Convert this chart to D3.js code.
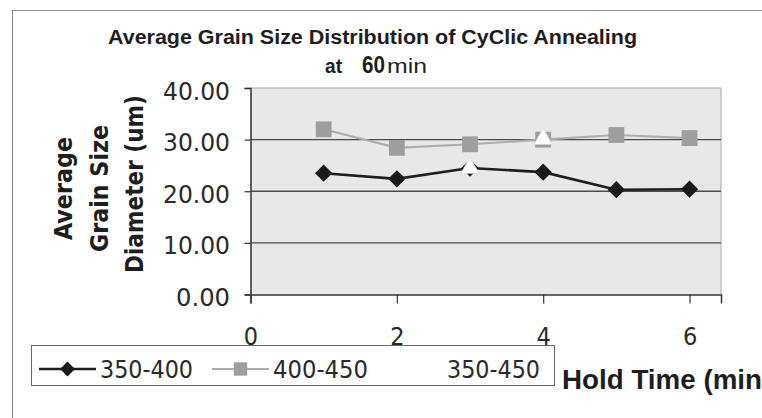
<!DOCTYPE html>
<html><head><meta charset="utf-8">
<script src="https://cdn.jsdelivr.net/npm/d3@7"></script>
<style>
html,body{margin:0;padding:0;background:#fff;}
svg{display:block;}
</style></head>
<body>
<script>
// ---- data ----
const holdTimes = [1, 2, 3, 4, 5, 6];
const seriesNames = ["350-400", "400-450", "350-450"];
const s350_400 = [23.5, 22.4, 24.5, 23.7, 20.3, 20.4];
const s400_450 = [32.0, 28.4, 29.1, 30.0, 30.9, 30.3];
const s350_450 = [null, null, 24.5, 30.1, null, null];
const yTicks = [0, 10, 20, 30, 40];
const xTicks = [0, 2, 4, 6];
const titleText = "Average Grain Size Distribution of CyClic Annealing";
const subtitleParts = ["at", "60", "min"];
const yTitleLines = ["Average", "Grain Size", "Diameter (um)"];
const xTitle = "Hold Time (min";

const W = 762, H = 418;
const svg = d3.select("body").append("svg").attr("width", W).attr("height", H);

const plot = {left: 250.5, right: 721, top: 88, bottom: 294.5};
const x = d3.scaleLinear().domain([0, 6.43]).range([plot.left, plot.right]);
const y = d3.scaleLinear().domain([0, 40]).range([plot.bottom, plot.top]);

const condensed = "'DejaVu Sans Condensed', 'DejaVu Sans', sans-serif";
const arial = "'Liberation Sans', Arial, sans-serif";

// page frame
svg.append("line").attr("x1", 13).attr("x2", 762).attr("y1", 10.5).attr("y2", 10.5)
  .attr("stroke", "#8a8a8a").attr("stroke-width", 1);
svg.append("line").attr("x1", 12.5).attr("x2", 12.5).attr("y1", 10).attr("y2", 418)
  .attr("stroke", "#8a8a8a").attr("stroke-width", 1);

// plot background
svg.append("rect").attr("x", plot.left).attr("y", plot.top)
  .attr("width", plot.right - plot.left).attr("height", plot.bottom - plot.top)
  .attr("fill", "#e8e8e8");
svg.append("line").attr("x1", plot.left).attr("x2", plot.right).attr("y1", plot.top).attr("y2", plot.top)
  .attr("stroke", "#a8a8a8").attr("stroke-width", 1.2);
svg.append("line").attr("x1", plot.right).attr("x2", plot.right).attr("y1", plot.top).attr("y2", plot.bottom)
  .attr("stroke", "#b5b5b5").attr("stroke-width", 1.2);

// gridlines
svg.append("g").selectAll("line").data(yTicks.filter(d => d > 0 && d < 40)).join("line")
  .attr("x1", plot.left).attr("x2", plot.right)
  .attr("y1", d => y(d)).attr("y2", d => y(d))
  .attr("stroke", "#4a4a4a").attr("stroke-width", 1.4);

// y axis
const yAxis = svg.append("g").attr("transform", `translate(${plot.left},0)`)
  .call(d3.axisLeft(y).tickValues(yTicks).tickSize(6).tickPadding(14.5).tickFormat(d3.format(".2f")));
yAxis.select(".domain").attr("stroke", "#333").attr("stroke-width", 1.5);
yAxis.selectAll(".tick line").attr("stroke", "#333").attr("stroke-width", 1.2);
yAxis.selectAll("text").attr("font-family", condensed).attr("font-size", 25)
  .attr("fill", "#2a2a2a").attr("dy", "0.44em")
  .attr("textLength", 67).attr("lengthAdjust", "spacingAndGlyphs");
yAxis.selectAll("text").filter(d => d === 0).attr("textLength", 54);

// x axis
const xAxis = svg.append("g").attr("transform", `translate(0,${plot.bottom})`)
  .call(d3.axisBottom(x).tickValues(xTicks).tickSize(9).tickPadding(0).tickFormat(d3.format("d")));
xAxis.select(".domain").attr("stroke", "#333").attr("stroke-width", 1.5);
xAxis.selectAll(".tick line").attr("stroke", "#333").attr("stroke-width", 1.2);
xAxis.selectAll("text").attr("font-family", condensed).attr("font-size", 25)
  .attr("fill", "#2a2a2a").attr("y", 50.5).attr("dy", 0);

// series
const line = d3.line().defined(d => d[1] != null).x(d => x(d[0])).y(d => y(d[1]));
const zip = vals => holdTimes.map((t, i) => [t, vals[i]]);

const gray = svg.append("g");
gray.append("path").attr("d", line(zip(s400_450))).attr("fill", "none")
  .attr("stroke", "#adadad").attr("stroke-width", 2.2);
gray.selectAll("path.m").data(zip(s400_450)).join("path").attr("class", "m")
  .attr("transform", d => `translate(${x(d[0])},${y(d[1])})`)
  .attr("d", d3.symbol(d3.symbolSquare, 250)()).attr("fill", "#9e9e9e");

const black = svg.append("g");
black.append("path").attr("d", line(zip(s350_400))).attr("fill", "none")
  .attr("stroke", "#1e1e1e").attr("stroke-width", 2.6);
black.selectAll("path.m").data(zip(s350_400)).join("path").attr("class", "m")
  .attr("transform", d => `translate(${x(d[0])},${y(d[1])}) rotate(45)`)
  .attr("d", d3.symbol(d3.symbolSquare, 150)()).attr("fill", "#1a1a1a");

// third series: white markers (line blends into background)
const white = svg.append("g");
white.selectAll("path.m").data(zip(s350_450).filter(d => d[1] != null)).join("path").attr("class", "m")
  .attr("transform", d => `translate(${x(d[0])},${y(d[1])})`)
  .attr("d", d3.symbol(d3.symbolTriangle, 150)()).attr("fill", "#ffffff")
  .attr("stroke", "#cfcfcf").attr("stroke-width", 0.6);

// title
svg.append("text").attr("x", 108).attr("y", 44).attr("font-family", arial).attr("font-weight", "bold")
  .attr("font-size", 20).attr("fill", "#1e1e1e")
  .attr("textLength", 529).attr("lengthAdjust", "spacingAndGlyphs").text(titleText);
const subX = [325, 362, 387], subW = [17, 23, 40], subSize = [20, 23, 21], subWt = ["bold", "bold", "normal"];
svg.append("g").selectAll("text").data(subtitleParts).join("text")
  .attr("x", (d, i) => subX[i]).attr("y", 73).attr("font-family", arial)
  .attr("font-weight", (d, i) => subWt[i])
  .attr("font-size", (d, i) => subSize[i]).attr("fill", "#1e1e1e")
  .attr("textLength", (d, i) => subW[i]).attr("lengthAdjust", "spacingAndGlyphs").text(d => d);

// y title
const yTitleX = [72, 108, 143], yTitleLen = [103, 127, 178], yTitleC = [188.5, 188.5, 184];
svg.append("g").selectAll("text").data(yTitleLines).join("text")
  .attr("transform", (d, i) => `translate(${yTitleX[i]},${yTitleC[i]}) rotate(-90)`)
  .attr("text-anchor", "middle").attr("font-family", condensed).attr("font-weight", "bold")
  .attr("font-size", 25).attr("fill", "#1e1e1e")
  .attr("textLength", (d, i) => yTitleLen[i]).attr("lengthAdjust", "spacingAndGlyphs").text(d => d);

// x title
svg.append("text").attr("x", 562).attr("y", 389).attr("font-family", arial).attr("font-weight", "bold")
  .attr("font-size", 27).attr("fill", "#1e1e1e")
  .attr("textLength", 200).attr("lengthAdjust", "spacingAndGlyphs").text(xTitle);

// legend
const lg = svg.append("g");
lg.append("rect").attr("x", 31.5).attr("y", 345.5).attr("width", 523).attr("height", 40)
  .attr("fill", "#fff").attr("stroke", "#666").attr("stroke-width", 1);
const legX = [39, 212, 383], legTextX = [100, 273, 447], legTextW = [93, 95, 93];
const legStroke = ["#1e1e1e", "#adadad", "#ffffff"];
const legFill = ["#1a1a1a", "#9e9e9e", "#ffffff"];
const legSym = [d3.symbolSquare, d3.symbolSquare, d3.symbolTriangle];
const legSize = [110, 180, 110];
const items = lg.selectAll("g").data(seriesNames).join("g");
items.append("line").attr("x1", (d, i) => legX[i]).attr("x2", (d, i) => legX[i] + 57)
  .attr("y1", 369).attr("y2", 369)
  .attr("stroke", (d, i) => legStroke[i]).attr("stroke-width", (d, i) => i === 0 ? 2.6 : 2);
items.append("path")
  .attr("transform", (d, i) => `translate(${legX[i] + 28.5},369)` + (i === 0 ? " rotate(45)" : ""))
  .attr("d", (d, i) => d3.symbol(legSym[i], legSize[i])()).attr("fill", (d, i) => legFill[i]);
items.append("text").attr("x", (d, i) => legTextX[i]).attr("y", 378)
  .attr("font-family", condensed).attr("font-size", 25).attr("fill", "#2a2a2a")
  .attr("textLength", (d, i) => legTextW[i]).attr("lengthAdjust", "spacingAndGlyphs").text(d => d);
</script>
</body></html>
